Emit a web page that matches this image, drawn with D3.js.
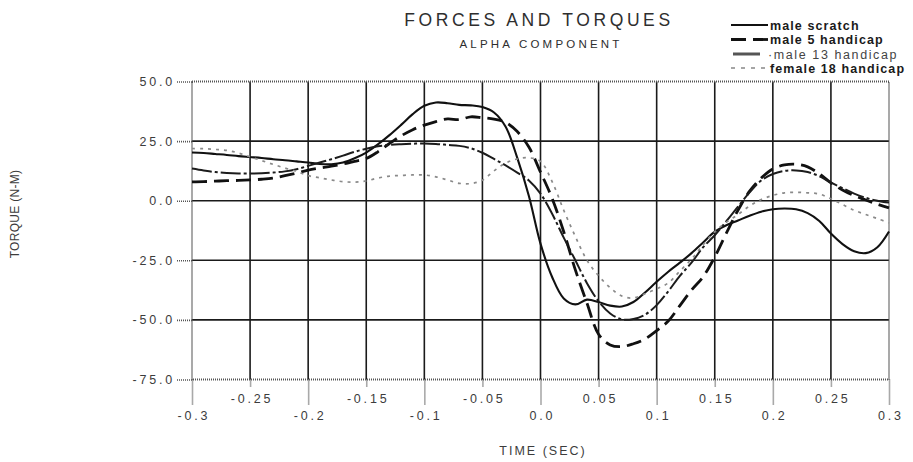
<!DOCTYPE html>
<html><head><meta charset="utf-8">
<script src="https://cdn.jsdelivr.net/npm/d3@7"></script>
<style>
body{margin:0;background:#fff;}
text{font-family:"Liberation Sans",Arial,Helvetica,sans-serif;}
</style></head><body>
<svg id="chart" width="913" height="462"></svg>
<script>
// ---------- data ----------
const timeSec = [-0.30,-0.29,-0.28,-0.27,-0.26,-0.25,-0.24,-0.23,-0.22,-0.21,
  -0.20,-0.19,-0.18,-0.17,-0.16,-0.15,-0.14,-0.13,-0.12,-0.11,
  -0.10,-0.09,-0.08,-0.07,-0.06,-0.05,-0.04,-0.03,-0.02,-0.01,
  0.00,0.01,0.02,0.03,0.04,0.05,0.06,0.07,0.08,0.09,
  0.10,0.11,0.12,0.13,0.14,0.15,0.16,0.17,0.18,0.19,
  0.20,0.21,0.22,0.23,0.24,0.25,0.26,0.27,0.28,0.29,0.30];

const maleScratch = [20.2,20.0,19.6,19.2,18.7,18.3,17.9,17.4,17.0,16.5,
  16.0,15.4,15.3,16.0,17.8,20.2,23.6,27.5,31.8,36.3,
  39.8,41.2,40.9,40.2,40.0,39.3,37.0,31.0,18.0,2.0,
  -18.0,-32.0,-41.0,-43.5,-41.5,-42.5,-44.0,-44.4,-42.5,-38.5,
  -34.0,-29.8,-26.0,-22.0,-17.5,-13.0,-10.3,-8.3,-6.3,-4.6,
  -3.6,-3.3,-3.6,-5.2,-8.5,-13.8,-18.2,-21.2,-22.0,-19.5,-12.9];

const male5Handicap = [7.9,8.0,8.2,8.4,8.5,8.7,9.0,9.5,10.5,11.6,
  12.8,13.7,14.5,15.4,16.5,17.7,20.5,24.0,27.2,29.8,
  31.7,33.2,34.3,34.0,35.2,34.8,34.2,32.8,29.0,22.5,
  12.0,1.0,-13.0,-29.0,-43.0,-56.0,-60.5,-61.2,-60.0,-58.0,
  -54.5,-50.5,-44.0,-37.5,-31.9,-23.6,-13.6,-4.0,4.0,9.5,
  13.3,15.0,15.3,14.2,11.3,7.5,4.5,2.1,0.3,-1.5,-3.0];

const male13Handicap = [13.5,12.7,12.0,11.6,11.4,11.4,11.5,11.8,12.3,13.2,
  14.6,16.0,17.4,18.9,20.5,21.8,22.8,23.4,23.7,23.9,
  24.0,23.8,23.4,23.0,22.0,20.1,17.5,14.8,11.8,8.5,
  3.0,-5.5,-15.5,-25.0,-34.6,-42.2,-47.3,-49.8,-49.6,-47.8,
  -43.8,-38.0,-31.5,-26.0,-19.5,-14.5,-8.6,-2.5,3.5,8.5,
  11.2,12.5,12.7,12.0,10.3,7.6,5.3,3.0,1.2,0.0,-0.8];

const female18Handicap = [21.9,21.8,21.5,21.1,20.0,18.4,16.8,15.2,13.7,12.3,
  10.5,9.6,8.7,8.0,7.8,8.3,9.5,10.3,10.6,10.8,
  10.8,10.0,8.7,7.3,7.2,8.6,12.5,15.8,17.5,18.0,
  16.5,8.0,-4.0,-15.0,-25.0,-31.5,-36.5,-40.0,-40.8,-39.0,
  -37.0,-34.5,-29.5,-24.5,-18.5,-13.0,-9.0,-5.8,-2.2,0.5,
  2.2,3.3,3.5,3.3,2.8,0.8,-1.6,-4.0,-5.8,-7.5,-9.3];

const seriesNames = ["male scratch","male 5 handicap","male 13 handicap","female 18 handicap"];
const seriesValues = [maleScratch, male5Handicap, male13Handicap, female18Handicap];

const xTickValues = [-0.3,-0.25,-0.2,-0.15,-0.1,-0.05,0,0.05,0.1,0.15,0.2,0.25,0.3];
const xTickLabels = ["-0.3","-0.25","-0.2","-0.15","-0.1","-0.05","0.0","0.05","0.1","0.15","0.2","0.25","0.3"];
const yTickValues = [50,25,0,-25,-50,-75];
const yTickLabels = ["50.0","25.0","0.0","-25.0","-50.0","-75.0"];

const titleText = "FORCES AND TORQUES";
const subtitleText = "ALPHA COMPONENT";
const xAxisTitle = "TIME (SEC)";
const yAxisTitle = "TORQUE (N-M)";

// ---------- styles ----------
const lineStyles = [
  {stroke:"#111", width:2.1, dash:null},
  {stroke:"#111", width:2.8, dash:"15,7"},
  {stroke:"#1c1c1c", width:2.0, dash:"20,3,3,3"},
  {stroke:"#8a8a8a", width:1.7, dash:"3,5"}
];

// ---------- layout ----------
const svg = d3.select("#chart");
const x = d3.scaleLinear().domain([-0.3, 0.3]).range([192, 889]);
const y = d3.scaleLinear().domain([-75, 50]).range([379.5, 81.5]);

const labelColor = "#3c3c3c";

// gridlines (interior)
const grid = svg.append("g");
grid.selectAll("line.vg").data(xTickValues.slice(1, -1)).join("line")
  .attr("x1", d => x(d)).attr("x2", d => x(d))
  .attr("y1", y(50)).attr("y2", y(-75))
  .attr("stroke", "#1a1a1a").attr("stroke-width", 1.6);
grid.selectAll("line.hg").data(yTickValues.slice(1, -1)).join("line")
  .attr("x1", x(-0.3)).attr("x2", x(0.3))
  .attr("y1", d => y(d)).attr("y2", d => y(d))
  .attr("stroke", "#1a1a1a").attr("stroke-width", 1.6);

// dotted frame
const frame = svg.append("g").attr("stroke", "#555").attr("stroke-width", 2).attr("stroke-dasharray", "1,1").attr("fill", "none");
frame.append("rect").attr("x", x(-0.3)).attr("y", y(50))
  .attr("width", x(0.3) - x(-0.3)).attr("height", y(-75) - y(50));

// series lines
const line = d3.line().x((d, i) => x(timeSec[i])).y(d => y(d)).curve(d3.curveCatmullRom.alpha(0.5));
const linesG = svg.append("g");
seriesValues.forEach((vals, k) => {
  const st = lineStyles[k];
  linesG.append("path").datum(vals).attr("d", line)
    .attr("fill", "none").attr("stroke", st.stroke).attr("stroke-width", st.width)
    .attr("stroke-dasharray", st.dash).attr("stroke-linejoin", "round");
});

// y axis
const yAxis = d3.axisLeft(y).tickValues(yTickValues)
  .tickFormat((d, i) => yTickLabels[i]).tickSize(15).tickPadding(2);
const gy = svg.append("g").attr("transform", `translate(${x(-0.3)},0)`).call(yAxis);
gy.select(".domain").remove();
gy.selectAll(".tick line").attr("stroke", "#555").attr("stroke-width", 1.6).attr("stroke-dasharray", "1,1");
gy.selectAll(".tick text").attr("fill", labelColor).attr("font-size", 12.5)
  .style("letter-spacing", "2.8px");

// x axis
const xAxis = d3.axisBottom(x).tickValues(xTickValues)
  .tickFormat((d, i) => xTickLabels[i]);
const gx = svg.append("g").attr("transform", `translate(0,${y(-75)})`).call(xAxis);
gx.select(".domain").remove();
gx.selectAll(".tick").each(function(d, i) {
  const minor = i % 2 === 1;
  const t = d3.select(this);
  t.select("line").attr("y2", minor ? 7 : 26).attr("stroke", "#555")
    .attr("stroke-width", 1.6).attr("stroke-dasharray", "1,1");
  t.select("text").attr("y", minor ? 19 : 36).attr("dy", "0.35em")
    .attr("dx", "1.4")
    .attr("fill", labelColor).attr("font-size", 12.5).style("letter-spacing", "2.8px");
});

// titles
svg.append("text").attr("x", 539).attr("y", 26).attr("text-anchor", "middle")
  .attr("font-size", 17.5).attr("fill", "#2e2e2e").style("letter-spacing", "3.6px")
  .text(titleText);
svg.append("text").attr("x", 541).attr("y", 48).attr("text-anchor", "middle")
  .attr("font-size", 11.5).attr("fill", "#2e2e2e").style("letter-spacing", "3.2px")
  .text(subtitleText);
svg.append("text").attr("x", 543).attr("y", 455).attr("text-anchor", "middle")
  .attr("font-size", 12.5).attr("fill", labelColor).style("letter-spacing", "2px")
  .text(xAxisTitle);
svg.append("text").attr("transform", "translate(19,214) rotate(-90)").attr("text-anchor", "middle")
  .attr("font-size", 12).attr("fill", labelColor).style("letter-spacing", "0.3px")
  .text(yAxisTitle);

// legend
const legendRowsY = [25, 39.5, 54, 68];
const legend = svg.append("g");
seriesNames.forEach((name, k) => {
  const st = lineStyles[k];
  const ry = legendRowsY[k];
  const sample = legend.append("line").attr("x1", 731).attr("x2", 768)
    .attr("y1", ry).attr("y2", ry).attr("stroke", st.stroke);
  if (k === 0) sample.attr("stroke-width", 2.2);
  if (k === 1) sample.attr("stroke-width", 2.8).attr("stroke-dasharray", "15,7");
  if (k === 2) sample.attr("x1", 733).attr("x2", 760).attr("stroke-width", 3).attr("stroke", "#555");
  if (k === 3) sample.attr("stroke-width", 1.5).attr("stroke-dasharray", "4,6").attr("stroke", "#888");
  legend.append("text").attr("x", k === 2 ? 768 : 770).attr("y", ry + 4.5)
    .attr("font-size", 12.5)
    .attr("font-weight", k === 2 ? "normal" : "bold")
    .attr("fill", k === 2 ? "#444" : "#1a1a1a")
    .style("letter-spacing", k === 2 ? "1.6px" : "1.1px")
    .text(k === 2 ? "\u00b7" + name : name);
});
</script>
</body></html>
